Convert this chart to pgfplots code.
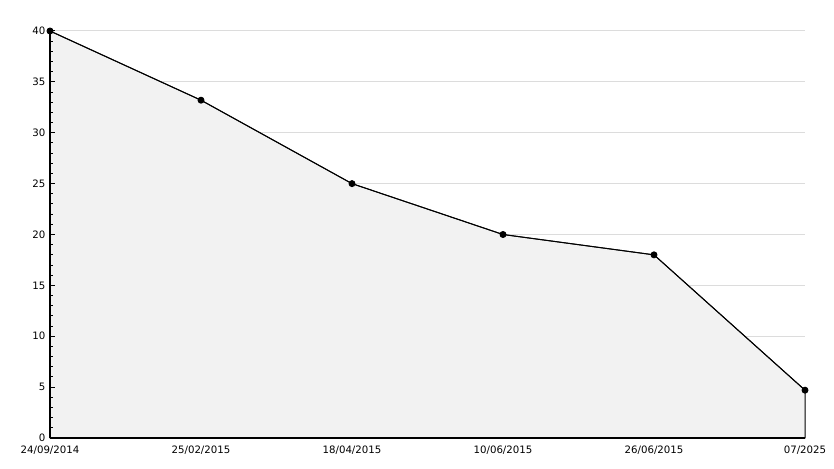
\documentclass[border=0pt]{standalone}
\usepackage{pgfplots}
\pgfplotsset{compat=1.18}
\usepackage{fontspec}
\setmainfont{DejaVu Sans}
\definecolor{fillgray}{HTML}{F2F2F2}
\definecolor{gridgray}{HTML}{DCDCDC}
\pgfplotsset{
  base/.style={
    at={(0,0)}, anchor=south west,
    scale only axis,
    width=755pt, height=407pt,
    xmin=0, xmax=5, ymin=0, ymax=40,
    axis x line*=bottom, axis y line*=left,
    xtick={0,1,2,3,4,5},
    ytick={0,5,...,40},
    clip=false,
  }
}
\begin{document}
\begin{tikzpicture}[x=1pt,y=1pt]
\path[use as bounding box] (-50pt,-30pt) rectangle (784pt,438pt);
% layer 1: grid and filled area
\begin{axis}[
  base,
  axis line style={draw=none},
  xticklabels={}, yticklabels={},
  xtick style={draw=none}, ytick style={draw=none},
  ymajorgrids, grid style={gridgray, line width=1pt},
]
\addplot[draw=black, line width=1pt, fill=fillgray]
  coordinates {(0,40) (1,33.2) (2,25) (3,20) (4,18) (5,4.7)} \closedcycle;
\end{axis}
% layer 2: axes, ticks, labels, line and markers
\begin{axis}[
  base,
  axis line style={black, line width=1.5pt},
  xticklabels={24/09/2014,25/02/2015,18/04/2015,10/06/2015,26/06/2015,07/2025},
  xtick style={draw=none},
  minor y tick num=4,
  tick align=inside,
  major tick length=5pt, minor tick length=3pt,
  ytick style={black, line width=1pt},
  ticklabel style={font=\fontsize{10.2}{11}\selectfont},
  /pgf/number format/assume math mode=true,
  yticklabel style={xshift=-1pt},
  xticklabel style={yshift=-4pt},
]
\addplot[draw=black, line width=0.9pt, mark=*, mark size=3pt, mark options={fill=black}]
  coordinates {(0,40) (1,33.2) (2,25) (3,20) (4,18) (5,4.7)};
\end{axis}
\end{tikzpicture}
\end{document}
